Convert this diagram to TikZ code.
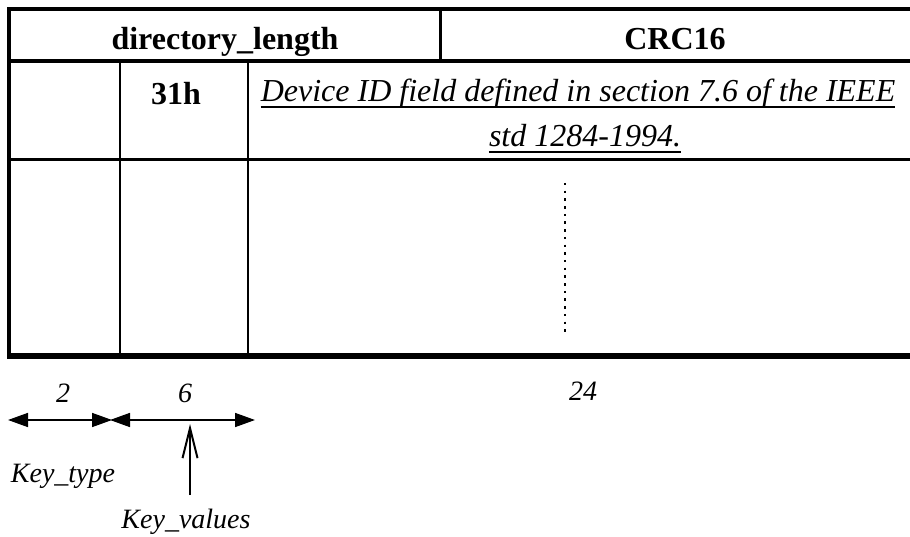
\documentclass[tikz,border=0pt]{standalone}
\usepackage{fontspec}
\setmainfont{Liberation Serif}
\usetikzlibrary{arrows.meta}
\begin{document}
\begin{tikzpicture}[x=1pt,y=-1pt,
  txt/.style={inner sep=0pt,anchor=base},
  head/.style={txt,font=\fontsize{32}{38}\selectfont\bfseries},
  body/.style={txt,font=\fontsize{32}{38}\selectfont\itshape},
  lbl/.style={txt,font=\fontsize{28}{33}\selectfont\itshape},
  uline/.style={line width=1.6pt},
  span/.style={line width=1.6pt,{Triangle[length=20pt,width=14pt]}-{Triangle[length=20pt,width=14pt]}},
  pointer/.style={line width=2pt,-{Straight Barb[length=30pt,width=15pt]}}]
\useasboundingbox (0,0) rectangle (910,537);
% frame and cell rules
\draw[line width=4.5pt] (9,356) -- (9,9) -- (912,9);
\draw[line width=6pt] (7,356) -- (912,356);
\draw[line width=4.5pt] (9,61) -- (912,61);
\draw[line width=3pt] (9,159.7) -- (912,159.7);
\draw[line width=3pt] (440.3,9) -- (440.3,61);
\draw[line width=2.7pt] (120,61) -- (120,356);
\draw[line width=2.7pt] (248,61) -- (248,356);
\draw[line width=2.5pt,dash pattern=on 2.5pt off 5.2pt] (565,183) -- (565,333);
% header row
\node[head] (dirlen) at (225,50) {directory\_length};
\node[head] (crc) at (675,50) {CRC16};
% first entry
\node[head] (key) at (176,105) {31h};
\node[body] (desc1) at (578,102) {Device ID field defined in section 7.6 of the IEEE};
\node[body] (desc2) at (585,147) {std 1284-1994.};
\draw[uline] ([yshift=-5pt]desc1.base west) -- ([yshift=-5pt]desc1.base east);
\draw[uline] ([yshift=-5pt]desc2.base west) -- ([yshift=-5pt]desc2.base east);
% field widths
\node[lbl] (w2) at (63,402) {2};
\node[lbl] (w6) at (185,402) {6};
\node[lbl] (w24) at (583,400) {24};
\coordinate (a0) at (8,420);
\coordinate (a1) at (112,420);
\coordinate (b0) at (110,420);
\coordinate (b1) at (255,420);
\draw[span] (a0) -- (a1);
\draw[span] (b0) -- (b1);
\node[lbl] (ktype) at (63,482) {Key\_type};
\node[lbl] (kval) at (186,528) {Key\_values};
\coordinate (p0) at (190,495);
\coordinate (p1) at (190,424);
\draw[pointer] (p0) -- (p1);
\end{tikzpicture}
\end{document}
